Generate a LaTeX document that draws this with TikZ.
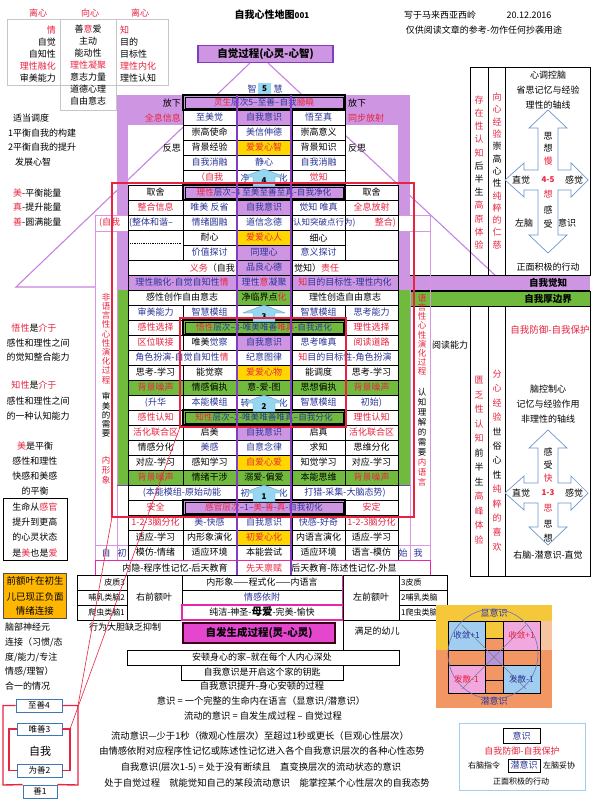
\documentclass[tikz,border=0pt]{standalone}
\usepackage{fontspec}
\setmainfont{Noto Sans CJK SC}
\definecolor{pu}{RGB}{206,150,226}
\definecolor{gr}{RGB}{112,186,62}
\definecolor{dg}{RGB}{40,90,20}
\definecolor{ye}{RGB}{255,214,0}
\definecolor{cy}{RGB}{150,214,238}
\definecolor{rd}{RGB}{232,36,64}
\definecolor{nv}{RGB}{42,52,150}
\definecolor{pk}{RGB}{214,150,228}
\definecolor{lvc}{RGB}{200,130,225}
\definecolor{mg}{RGB}{228,70,205}
\definecolor{mgb}{RGB}{232,40,170}
\definecolor{og}{RGB}{255,182,0}
\definecolor{ab}{RGB}{110,150,205}
\definecolor{lb}{RGB}{160,205,240}
\definecolor{lp}{RGB}{240,168,222}
\definecolor{so}{RGB}{242,150,100}
\definecolor{yl}{RGB}{245,200,60}
\definecolor{pe}{RGB}{246,196,160}
\definecolor{dpu}{RGB}{130,60,190}
\definecolor{bx}{RGB}{60,120,180}
\newcommand\cR[1]{\textcolor{rd}{#1}}
\newcommand\cN[1]{\textcolor{nv}{#1}}
\newcommand\fs{\fontsize{9}{10}\selectfont}
\newcount\tcnt
\newcommand\tnode[3][]{\global\advance\tcnt by 1\relax\node[txt,#1] (t\the\tcnt) at (#2) {#3};}
\newcommand\cl[5][]{\path[cell,#1] (#2,{110+15*(#4)}) rectangle (#3,{125+15*(#4)});\node[txt] (c#4x#2) at ({(#2+#3)/2},{117.5+15*(#4)}) {#5};}
\newcommand\lvb[5][]{\path[cell,#1,line width=1.3pt] (#2,{110+15*(#4)}) rectangle (#3,{125+15*(#4)});\draw[line width=0.4pt] ({#2+2},{112+15*(#4)}) rectangle ({#3-2},{123+15*(#4)});\node[txt,font=\fontsize{8.6}{9}\selectfont] (v#4) at ({(#2+#3)/2},{117.5+15*(#4)}) {#5};}
\newcommand\uparr[4]{\path[fill=cy,draw=ab,line width=0.4pt] (#2,#3) -- ++(21,8) -- ++(-10,0) -- ++(0,9) -- ++(-22,0) -- ++(0,-9) -- ++(-10,0) -- cycle;\node[txt,font=\fontsize{8}{8}\selectfont\bfseries] (#1) at (#2,{#3+12}) {#4};}
\begin{document}
\begin{tikzpicture}[x=1pt,y=-1pt,
 txt/.style={inner sep=0pt,font=\fs},
 cell/.style={draw=black,line width=0.6pt,fill=white},
 roof/.style={draw=lvc,line width=1.1pt},
 pline/.style={draw=pk,line width=1pt},
 redl/.style={draw=rd,line width=1.4pt},
 abox/.style={draw=bx,line width=0.8pt,fill=white},
 vtx/.style={txt,align=center},
 crossarr/.style={draw=ab,line width=0.7pt,fill=white}]
\useasboundingbox (0,0) rectangle (592,800);
\fill[white] (0,0) rectangle (592,800);
% ---------- top left table
\tnode{38,13}{\cR{离心}}
\tnode{90,13}{\cR{向心}}
\tnode{140,13}{\cR{离心}}
\draw[gray!45,line width=0.6pt] (7,19) rectangle (168,85);
\draw[gray!45,line width=0.6pt] (60,19) -- (60,110) -- (116,110) -- (116,19);
\tnode[anchor=east]{56,30}{\cR{情}}
\tnode[anchor=east]{56,42}{自觉}
\tnode[anchor=east]{56,54}{自知性}
\tnode[anchor=east]{56,66}{\cR{理性融化}}
\tnode[anchor=east]{56,78}{审美能力}
\tnode{88,29}{善\cR{意}爱}
\tnode{88,41}{主动}
\tnode{88,53}{能动性}
\tnode{88,65}{\cR{理性凝聚}}
\tnode{88,77}{意志力量}
\tnode{88,89}{道德心理}
\tnode{88,101}{自由意志}
\tnode[anchor=west]{120,30}{\cR{知}}
\tnode[anchor=west]{120,42}{目的}
\tnode[anchor=west]{120,54}{目标性}
\tnode[anchor=west]{120,66}{\cR{理性内化}}
\tnode[anchor=west]{120,78}{理性认知}
% ---------- title
\tnode[font=\fontsize{10}{10}\selectfont\bfseries]{272,15}{自我心性地图{\fontsize{8}{8}\selectfont 001}}
\tnode{440,15}{写于马来西亚西岭}
\tnode{529,15}{20.12.2016}
\tnode{484,30}{仅供阅读文章的参考-勿作任何抄袭用途}
% ---------- left notes
\tnode[anchor=west]{13,118}{适当调度}
\tnode[anchor=west]{8,133}{1平衡自我的构建}
\tnode[anchor=west]{8,147}{2平衡自我的提升}
\tnode[anchor=west]{15,162}{发展心智}
\tnode[anchor=west]{13,193}{\cR{美}-平衡能量}
\tnode[anchor=west]{13,207}{\cR{真}-提升能量}
\tnode[anchor=west]{13,222}{\cR{善}-圆满能量}
\tnode{34,328}{\cR{悟性}是\cR{介于}}
\tnode{38,343}{感性和理性之间}
\tnode{38,357}{的觉知整合能力}
\tnode{34,385}{\cR{知性}是\cR{介于}}
\tnode{38,401}{感性和理性之间}
\tnode{38,416}{的一种认知能力}
\tnode{35,446}{\cR{美}是平衡}
\tnode{35,461}{感性和理性}
\tnode{35,476}{快感和美感}
\tnode{35,491}{的平衡}
\draw[line width=0.9pt] (3,498) rectangle (67,560);
\tnode{35,507}{生命从\cR{感官}}
\tnode{35,522}{提升到更高}
\tnode{35,537}{的心灵状态}
\tnode{35,553}{是\cR{美}也是\cR{爱}}
\path[fill=og,draw=black!70,line width=0.8pt] (3,573) rectangle (66,618);
\tnode[font=\fontsize{9.5}{10}\selectfont]{35,581}{前额叶在初生}
\tnode[font=\fontsize{9.5}{10}\selectfont]{35,597}{儿已现正负面}
\tnode[font=\fontsize{9.5}{10}\selectfont]{35,611}{情绪连接}
\tnode[anchor=west]{5,627}{脑部神经元}
\tnode[anchor=west]{5,642}{连接（习惯/态}
\tnode[anchor=west]{5,657}{度/能力/专注}
\tnode[anchor=west]{5,671}{情感/理智）}
\tnode[anchor=west]{5,686}{合一的情况}
% ---------- roof
\path[roof] (250,63) -- (16,287) -- (95,287);
\path[roof] (268,63) -- (497,277);
\node[draw=dpu,line width=1.5pt,fill=pu,minimum width=135pt,minimum height=17pt,inner sep=0pt,font=\fontsize{10.5}{11}\selectfont\bfseries] (zjgc) at (265.5,54) {自觉过程(心灵-心智)};
\tnode{252,89}{\cN{智}}
\path[fill=cy] (258,83) rectangle (271,94);
\tnode[font=\fontsize{8}{8}\selectfont\bfseries]{264.5,88.5}{5}
\tnode{278,89}{\cN{慧}}
% ---------- backgrounds
\fill[pu] (117,95) rectangle (183,125);
\fill[pu] (345,95) rectangle (410,125);
\fill[pu] (117,95) rectangle (128,290);
\fill[pu] (398,95) rectangle (410,290);
\fill[pu] (117,275) rectangle (590,290);
\draw[line width=0.8pt] (410,275) -- (590,275) (410,290) -- (590,290);
\fill[gr] (117,290) rectangle (128,485);
\fill[gr] (398,290) rectangle (410,485);
\path[fill=gr,draw=black,line width=0.8pt] (410,291) rectangle (590,306);
\tnode[font=\fontsize{9.5}{10}\selectfont\bfseries]{548,283}{自我觉知}
\tnode[font=\fontsize{9.5}{10}\selectfont\bfseries]{548,299}{自我厚边界}
% pink side lines
\path[pline] (95,215) -- (95,575);
\path[pline] (117,290) -- (117,575);
\path[pline] (430,215) -- (430,575);
\path[pline] (410,290) -- (410,575);
\path[pline] (95,545) -- (128,545) (398,545) -- (430,545);
\path[pline,fill=white] (95,215) rectangle (430,231);
% ---------- table
\tnode[anchor=east]{181,103}{放下}
\lvb[fill=pu]{183}{345}{-1}{\cR{灵生}\cN{层次5--至善--自我}\cR{臆曉}}
\tnode[anchor=west]{348,103}{放下}
\tnode[anchor=east]{181,118}{\cR{全息信息}}
\cl{183}{236}{0}{\cN{至美觉}}
\cl[fill=pu]{236}{292}{0}{\cN{自我意识}}
\cl{292}{345}{0}{\cN{悟至真}}
\tnode[anchor=west]{348,118}{\cR{同步放射}}
\cl{183}{236}{1}{崇高使命}
\cl{236}{292}{1}{\cN{美信伸德}}
\cl{292}{345}{1}{崇高意义}
\tnode[anchor=east]{181,148}{反思}
\cl{183}{236}{2}{背景经验}
\cl[fill=ye]{236}{292}{2}{\cR{爱爱心智}}
\cl{292}{345}{2}{背景知识}
\tnode[anchor=west]{348,148}{反思}
\cl{183}{236}{3}{\cN{自我消融}}
\cl{236}{292}{3}{\cN{静心}}
\cl{292}{345}{3}{\cN{自我消融}}
\cl{183}{236}{4}{\cR{（自我}}
\cl{236}{292}{4}{}
\cl{292}{345}{4}{\cR{觉知}}
\tnode{245,178}{\cN{净}}
\tnode{283,178}{\cN{化}}
\cl{128}{183}{5}{取舍}
\lvb[fill=pu]{183}{345}{5}{\cR{理性}\cN{层次--4 至美至善至真-自我净化}}
\cl{345}{398}{5}{取舍}
\cl{128}{183}{6}{\cR{整合信息}}
\cl{183}{236}{6}{\cN{唯美 反省}}
\cl[fill=pu]{236}{292}{6}{\cN{自我意识}}
\cl{292}{345}{6}{\cN{觉知 唯真}}
\cl{345}{398}{6}{\cR{全息放射}}
\cl{128}{183}{7}{}
\tnode[anchor=west]{99,223}{\cR{(自我}}
\tnode[anchor=west]{129,223}{\cN{(整体和谐--}}
\cl{183}{236}{7}{\cN{情绪圆融}}
\cl{236}{292}{7}{\cN{道信念德}}
\cl{292}{345}{7}{}
\cl{345}{398}{7}{}
\tnode[anchor=west,font=\fontsize{8.5}{9}\selectfont]{293,223}{\cN{认知突破点行为)}}
\tnode[anchor=east]{396,223}{\cR{整合)}}
\path[cell] (128,230) rectangle (183,260);
\draw[densely dotted,line width=0.8pt] (130,243) -- (181,243);
\path[cell] (345,230) rectangle (398,260);
\cl{183}{236}{8}{耐心}
\cl[fill=ye]{236}{292}{8}{\cR{爱爱心人}}
\cl{292}{345}{8}{细心}
\cl{183}{236}{9}{\cN{价值探讨}}
\cl[fill=pu]{236}{292}{9}{\cN{同理心}}
\cl{292}{345}{9}{\cN{意义探讨}}
\cl{128}{236}{10}{}
\tnode[anchor=east]{235,268}{\cR{义务}（自我}
\cl[fill=pu]{236}{292}{10}{\cN{品良心德}}
\cl{292}{398}{10}{}
\tnode[anchor=west]{294,268}{觉知）\cR{责任}}
\cl[fill=pu]{128}{236}{11}{\cN{理性融化-自觉自知性}\cR{情}}
\cl[fill=pu]{236}{292}{11}{\cN{理性}\cR{意}\cN{凝聚}}
\cl[fill=pu]{292}{398}{11}{\cR{知}\cN{目的目标性-理性内化}}
\cl{128}{236}{12}{感性创作自由意志}
\cl[fill=gr]{236}{292}{12}{净临界点\cR{化}}
\cl{292}{398}{12}{理性创造自由意志}
\cl{128}{183}{13}{\cN{审美能力}}
\cl{183}{236}{13}{\cN{智慧模组}}
\cl{236}{292}{13}{}
\cl{292}{345}{13}{\cN{智慧模组}}
\cl{345}{398}{13}{\cN{思考能力}}
\cl{128}{183}{14}{\cR{感性选择}}
\lvb[fill=gr]{183}{345}{14}{\cR{悟性}\cN{层次--3-唯美唯善}\cR{唯真}\cN{-自我进化}}
\cl{345}{398}{14}{\cR{理性选择}}
\cl{128}{183}{15}{\cR{区位联接}}
\cl{183}{236}{15}{唯美\cN{觉察}}
\cl[fill=pu]{236}{292}{15}{\cN{自我意识}}
\cl{292}{345}{15}{\cN{思考唯真}}
\cl{345}{398}{15}{\cR{阅读道路}}
\cl{128}{236}{16}{\cN{角色扮演-自觉自知性}\cR{情}}
\cl{236}{292}{16}{\cN{纪意图律}}
\cl{292}{398}{16}{\cR{知}\cN{目的目标性-角色扮演}}
\cl{128}{183}{17}{思考-学习}
\cl{183}{236}{17}{能觉察}
\cl[fill=ye]{236}{292}{17}{\cR{爱爱心物}}
\cl{292}{345}{17}{能调度}
\cl{345}{398}{17}{思考-学习}
\cl[fill=gr]{128}{183}{18}{\cR{背景噪声}}
\cl[fill=gr]{183}{236}{18}{情感偏执}
\cl[fill=gr]{236}{292}{18}{意-爱-图}
\cl[fill=gr]{292}{345}{18}{思想偏执}
\cl[fill=gr]{345}{398}{18}{\cR{背景噪声}}
\cl{128}{183}{19}{\cN{(升华}}
\cl{183}{236}{19}{\cN{本能模组}}
\cl{236}{292}{19}{}
\tnode{245,403}{\cN{转}}
\tnode{283,403}{\cN{化}}
\cl{292}{345}{19}{\cN{智慧模组}}
\cl{345}{398}{19}{\cN{初始)}}
\cl{128}{183}{20}{\cR{感性认知}}
\lvb[fill=gr]{183}{345}{20}{\cR{知性}\cN{层次--2-唯美唯善唯真--自我分化}}
\cl{345}{398}{20}{\cR{理性认知}}
\cl{128}{183}{21}{\cR{活化联合区}}
\cl{183}{236}{21}{启美}
\cl[fill=pu]{236}{292}{21}{\cN{自我意识}}
\cl{292}{345}{21}{启真}
\cl{345}{398}{21}{\cR{活化联合区}}
\cl{128}{183}{22}{情感分化}
\cl{183}{236}{22}{\cN{美感}}
\cl{236}{292}{22}{\cN{自意念律}}
\cl{292}{345}{22}{求知}
\cl{345}{398}{22}{思维分化}
\cl{128}{183}{23}{对应-学习}
\cl{183}{236}{23}{感知学习}
\cl[fill=ye]{236}{292}{23}{\cR{自爱心爱}}
\cl{292}{345}{23}{知觉学习}
\cl{345}{398}{23}{对应-学习}
\cl[fill=gr]{128}{183}{24}{\cR{背景噪声}}
\cl[fill=gr]{183}{236}{24}{情绪干涉}
\cl[fill=gr]{236}{292}{24}{溺爱-偏爱}
\cl[fill=gr]{292}{345}{24}{本能思维}
\cl[fill=gr]{345}{398}{24}{\cR{背景噪声}}
\draw[dpu,line width=1pt] (117,485) -- (410,485);
\cl{128}{236}{25}{\cN{(本能模组-原始动能}}
\cl{236}{292}{25}{}
\tnode{245,493}{\cN{初}}
\tnode{283,493}{\cN{化}}
\cl{292}{398}{25}{\cN{打猎-采集-大脑态势)}}
\cl{128}{183}{26}{\cR{安全}}
\lvb[fill=pu]{183}{345}{26}{\cR{感官层次}\cN{--1--}\cR{美}\cN{-}\cR{善}\cN{-}\cR{真}\cN{-自我初化}}
\cl{345}{398}{26}{\cR{安定}}
\cl{128}{183}{27}{\cR{1-2-3脑分化}}
\cl{183}{236}{27}{\cN{美-快感}}
\cl{236}{292}{27}{\cN{自我意识}}
\cl{292}{345}{27}{\cN{快感-好奇}}
\cl{345}{398}{27}{\cR{1-2-3脑分化}}
\cl{128}{183}{28}{适应-学习}
\cl{183}{236}{28}{内形象演化}
\cl[fill=ye]{236}{292}{28}{\cR{初爱心化}}
\cl{292}{345}{28}{内语言演化}
\cl{345}{398}{28}{适应-学习}
\cl{128}{183}{29}{模仿-情绪}
\cl{183}{236}{29}{适应环境}
\cl{236}{292}{29}{本能尝试}
\cl{292}{345}{29}{适应环境}
\cl{345}{398}{29}{语言-模仿}
\tnode{106,553}{\cN{自}}
\tnode{122,553}{\cN{初}}
\tnode{403,553}{\cN{始}}
\tnode{418,553}{\cN{我}}
\path[draw=mgb,line width=1pt,fill=white] (95,560) rectangle (430,575);
\tnode{175,568}{内隐-程序性记忆-后天教育}
\tnode{264,568}{\cR{先天禀赋}}
\tnode{344,568}{后天教育-陈述性记忆-外显}
% column B purple borders
\draw[dpu,line width=1.6pt] (237,95) -- (237,575) (291,95) -- (291,575);
% arrows
\uparr{a4}{264}{169}{4}
\uparr{a3}{264}{305}{3}
\uparr{a2}{264}{395}{2}
\uparr{a1}{264}{485}{1}
% side vertical texts
\tnode[vtx,font=\fontsize{8.5}{9.2}\selectfont]{106,338.5}{\cR{非}\\\cR{语}\\\cR{言}\\\cR{性}\\\cR{心}\\\cR{性}\\\cR{演}\\\cR{化}\\\cR{过}\\\cR{程}}
\tnode[vtx,font=\fontsize{8.5}{9.2}\selectfont]{106,415}{审\\美\\的\\需\\要}
\tnode[vtx,font=\fontsize{8.5}{10}\selectfont]{106,470}{\cR{内}\\\cR{形}\\\cR{象}}
\tnode[vtx,font=\fontsize{8.5}{9.2}\selectfont]{422,335}{\cR{语}\\\cR{言}\\\cR{性}\\\cR{心}\\\cR{性}\\\cR{演}\\\cR{化}\\\cR{过}\\\cR{程}}
\tnode[vtx,font=\fontsize{8.5}{10}\selectfont]{422,422}{认\\知\\理\\解\\的\\需\\要}
\tnode[vtx,font=\fontsize{8.5}{10}\selectfont]{422,472}{\cR{内}\\\cR{语}\\\cR{言}}
% red frames
\path[redl] (112,183) rectangle (414,517);
\path[redl] (180,318) rectangle (346,427);
% ---------- right panels
\draw[line width=0.9pt] (470,67) rectangle (590,275);
\draw[line width=0.9pt] (488,67) -- (488,275) (505,67) -- (505,275);
\draw[line width=0.9pt] (470,306) rectangle (590,576);
\draw[line width=0.9pt] (488,306) -- (488,576) (505,306) -- (505,576);
\tnode[vtx,font=\fontsize{9}{13.2}\selectfont]{479,172.5}{\cR{存}\\\cR{在}\\\cR{性}\\\cR{认}\\\cR{知}\\后\\半\\生\\\cR{高}\\\cR{原}\\\cR{体}\\\cR{验}}
\tnode[vtx,font=\fontsize{9}{12.3}\selectfont]{497,171}{\cR{向}\\\cR{心}\\\cR{经}\\\cR{验}\\崇\\高\\心\\性\\\cR{纯}\\\cR{粹}\\\cR{的}\\\cR{仁}\\\cR{慈}}
\tnode[vtx,font=\fontsize{9}{14.5}\selectfont]{479,460}{\cR{匮}\\\cR{乏}\\\cR{性}\\\cR{认}\\\cR{知}\\前\\半\\生\\\cR{高}\\\cR{峰}\\\cR{体}\\\cR{验}}
\tnode[vtx,font=\fontsize{9}{14.4}\selectfont]{497,460.5}{\cR{分}\\\cR{心}\\\cR{经}\\\cR{验}\\世\\俗\\心\\性\\\cR{纯}\\\cR{粹}\\\cR{的}\\\cR{喜}\\\cR{欢}}
\tnode{548,75}{心调控脑}
\tnode{548,90}{省思记忆与经验}
\tnode{548,105}{理性的轴线}
\path[crossarr] (548,110) -- (567,128) -- (558,128) -- (558,170) -- (571,170) -- (571,163) -- (588,180) -- (571,197) -- (571,190) -- (558,190) -- (558,235) -- (567,235) -- (548,253) -- (529,235) -- (538,235) -- (538,190) -- (524,190) -- (524,197) -- (505,180) -- (524,163) -- (524,170) -- (538,170) -- (538,128) -- (529,128) -- cycle;
\tnode{548,136}{思}
\tnode{548,148}{想}
\tnode{548,161}{\cR{慢}}
\tnode{521,180}{直觉}
\tnode[font=\fontsize{8}{8}\selectfont\bfseries]{548,180}{\cR{4-5}}
\tnode{574,180}{感觉}
\tnode{548,194}{\cR{想}}
\tnode{548,210}{感}
\tnode{548,224}{受}
\tnode{524,223}{左脑}
\tnode{567,223}{意识}
\tnode{548,267}{正面积极的行动}
\tnode[font=\fontsize{9.5}{10}\selectfont]{550,330}{\cR{自我防御-自我保护}}
\tnode{450,345}{阅读能力}
\tnode{548,389}{脑控制心}
\tnode{548,404}{记忆与经验作用}
\tnode{548,419}{非理性的轴线}
\path[crossarr] (548,430) -- (567,448) -- (558,448) -- (558,483) -- (571,483) -- (571,476) -- (588,493) -- (571,510) -- (571,503) -- (558,503) -- (558,527) -- (567,527) -- (548,545) -- (529,527) -- (538,527) -- (538,503) -- (524,503) -- (524,510) -- (505,493) -- (524,476) -- (524,483) -- (538,483) -- (538,448) -- (529,448) -- cycle;
\tnode{548,452}{感}
\tnode{548,465}{受}
\tnode{548,478}{\cR{快}}
\tnode{521,493}{直觉}
\tnode[font=\fontsize{8}{8}\selectfont\bfseries]{548,493}{\cR{1-3}}
\tnode{574,493}{感觉}
\tnode{548,508}{\cR{思}}
\tnode{548,524}{思}
\tnode{548,538}{想}
\tnode{548,555}{右脑-潜意识-直觉}
% ---------- brain rows
\draw[line width=0.8pt] (77,575) rectangle (127,620) (77,590) -- (127,590) (77,605) -- (127,605);
\tnode[anchor=east,font=\fontsize{8}{9}\selectfont]{125,582}{皮质3}
\tnode[anchor=east,font=\fontsize{8}{9}\selectfont]{125,597}{哺乳类脑2}
\tnode[anchor=east,font=\fontsize{8}{9}\selectfont]{125,612}{爬虫类脑1}
\draw[line width=0.8pt] (127,575) rectangle (182,620);
\tnode{154,597}{右前额叶}
\draw[line width=0.8pt] (182,575) rectangle (343,590) (182,590) rectangle (343,605);
\draw[mgb,line width=1.2pt] (182,605) rectangle (343,620) (343,575) -- (343,620);
\tnode{262,582}{内形象——程式化——内语言}
\tnode{262,597}{\cN{情感依附}}
\tnode{262,612}{纯洁-神圣-{\fontsize{10.5}{11}\selectfont\bfseries 母爱}-完美-愉快}
\draw[line width=0.8pt] (343,575) rectangle (399,620);
\tnode{371,597}{左前额叶}
\draw[line width=0.8pt] (399,575) rectangle (447,620) (399,590) -- (447,590) (399,605) -- (447,605);
\tnode[anchor=west,font=\fontsize{8}{9}\selectfont]{401,582}{3皮质}
\tnode[anchor=west,font=\fontsize{8}{9}\selectfont]{401,597}{2哺乳类脑}
\tnode[anchor=west,font=\fontsize{8}{9}\selectfont]{401,612}{1爬虫类脑}
\tnode{125,627}{行为大胆缺乏抑制}
\draw[line width=0.8pt] (343,620) -- (343,650);
\tnode{377,631}{满足的幼儿}
\node[draw=black!70!purple,line width=1.5pt,fill=mg,minimum width=152pt,minimum height=20pt,inner sep=0pt,font=\fontsize{10.5}{11}\selectfont\bfseries] (zfsc) at (259,633) {自发生成过程(灵-心灵)};
\draw[line width=0.8pt] (127,650) rectangle (399,665);
\tnode{262,657.5}{安顿身心的家--就在每个人内心深处}
\draw[line width=0.8pt] (181,665) rectangle (343,680);
\tnode{262,672.5}{自我意识是开启这个家的钥匙}
\tnode[font=\fontsize{9.3}{10}\selectfont]{262,686}{自我意识提升-身心安顿的过程}
\tnode[font=\fontsize{9.3}{10}\selectfont]{261,701}{意识 = 一个完整的生命内在语言（显意识/潜意识）}
\tnode[font=\fontsize{9.3}{10}\selectfont]{263,716}{流动的意识 = 自发生成过程 -- 自觉过程}
\tnode[font=\fontsize{9.3}{10}\selectfont]{260,736}{流动意识---少于1秒（微观心性层次）至超过1秒或更长（巨观心性层次）}
\tnode[font=\fontsize{9.3}{10}\selectfont]{262,751}{由情感依附对应程序性记忆或陈述性记忆进入各个自我意识层次的各种心性态势}
\tnode[font=\fontsize{9.3}{10}\selectfont]{261,767}{自我意识(层次1-5) = 处于没有断续且\quad 直变换层次的流动状态的意识}
\tnode[font=\fontsize{9.3}{10}\selectfont]{267,783}{处于自觉过程\quad 就能觉知自己的某段流动意识\quad 能掌控某个心性层次的自我态势}
% ---------- bottom-left self structure
\node[abox,minimum width=46pt,minimum height=13pt,inner sep=0pt,font=\fontsize{8.5}{9}\selectfont] (zs4) at (39,705.5) {至善4};
\node[abox,minimum width=45pt,minimum height=12pt,inner sep=0pt,font=\fontsize{8.5}{9}\selectfont] (ws3) at (39.5,729) {唯善3};
\node[abox,minimum width=45pt,minimum height=13pt,inner sep=0pt,font=\fontsize{8.5}{9}\selectfont] (ws2) at (39.5,770.5) {为善2};
\node[abox,minimum width=34pt,minimum height=13pt,inner sep=0pt,font=\fontsize{8.5}{9}\selectfont] (s1) at (40,791.5) {善1};
\tnode[font=\fontsize{11}{12}\selectfont]{40,751}{自我}
\draw[redl] (zs4.west) -| (3,785) -- (s1.north west);
\draw[redl] (zs4.east) -| (78,785) -- (s1.north east);
\draw[redl] (ws3.west) -| (9,770.5) -- (ws2.west);
\draw[redl] (ws3.east) -| (70,770.5) -- (ws2.east);
\coordinate (rl1) at (180,427);
\coordinate (rl2) at (112,517);
\draw[rd,line width=0.6pt] (rl1) -- (70,729);
\draw[rd,line width=0.6pt] (rl2) -- (78,705.5);
% ---------- consciousness diagram
\fill[yl] (436,605) rectangle (552,650);
\fill[pe] (494,621) rectangle (552,650);
\fill[so] (436,650) rectangle (552,708);
\tnode{494,613}{\cN{显意识}}
\tnode{494,701}{\cN{潜意识}}
\path[fill=lb,draw=black,line width=0.8pt] (448,621) rectangle (485,650);
\path[fill=yl,draw=black,line width=0.8pt] (485,621) rectangle (503,638);
\path[fill=lp,draw=black,line width=0.8pt] (503,621) rectangle (540,650);
\path[fill=so,draw=black,line width=0.8pt] (485,638) rectangle (503,650);
\path[fill=so,draw=black,line width=0.8pt] (448,650) rectangle (485,665);
\path[fill=dpu!55,draw=black,line width=0.8pt] (485,650) rectangle (503,665);
\path[fill=so,draw=black,line width=0.8pt] (503,650) rectangle (540,665);
\path[fill=so,draw=black,line width=0.8pt] (485,665) rectangle (503,680);
\path[fill=so,draw=black,line width=0.8pt] (485,680) rectangle (503,693);
\path[fill=lp,draw=black,line width=0.8pt] (448,665) rectangle (485,693);
\path[fill=lb,draw=black,line width=0.8pt] (503,665) rectangle (540,693);
\draw[gray,line width=0.4pt] (462,625) -- (526,689) (526,625) -- (462,689);
\draw[nv!70,line width=0.6pt] (493,654) circle[radius=45pt];
\tnode[font=\fontsize{8.5}{9}\selectfont]{466.5,635}{\cN{收敛+1}}
\tnode[font=\fontsize{8.5}{9}\selectfont]{521.5,635}{\cR{收敛+1}}
\tnode[font=\fontsize{8.5}{9}\selectfont]{466.5,679}{\cR{发散-1}}
\tnode[font=\fontsize{8.5}{9}\selectfont]{521.5,679}{\cN{发散-1}}
% ---------- legend
\draw[lb,line width=0.8pt] (459,723) rectangle (585,790);
\node[draw=black,line width=0.9pt,minimum width=37pt,minimum height=15pt,inner sep=0pt,font=\fs] (lg1) at (521.5,736) {\cN{意识}};
\tnode{522,751}{\cR{自我防御-自我保护}}
\tnode[font=\fontsize{8}{9}\selectfont]{484,765}{右脑指令}
\node[draw=black,line width=0.9pt,minimum width=32pt,minimum height=13pt,inner sep=0pt,font=\fs] (lg2) at (524,765.5) {\cN{潜意识}};
\tnode[font=\fontsize{8}{9}\selectfont]{559,765}{左脑妥协}
\tnode[font=\fontsize{8}{9}\selectfont]{521,781}{正面积极的行动}
\end{tikzpicture}
\end{document}
